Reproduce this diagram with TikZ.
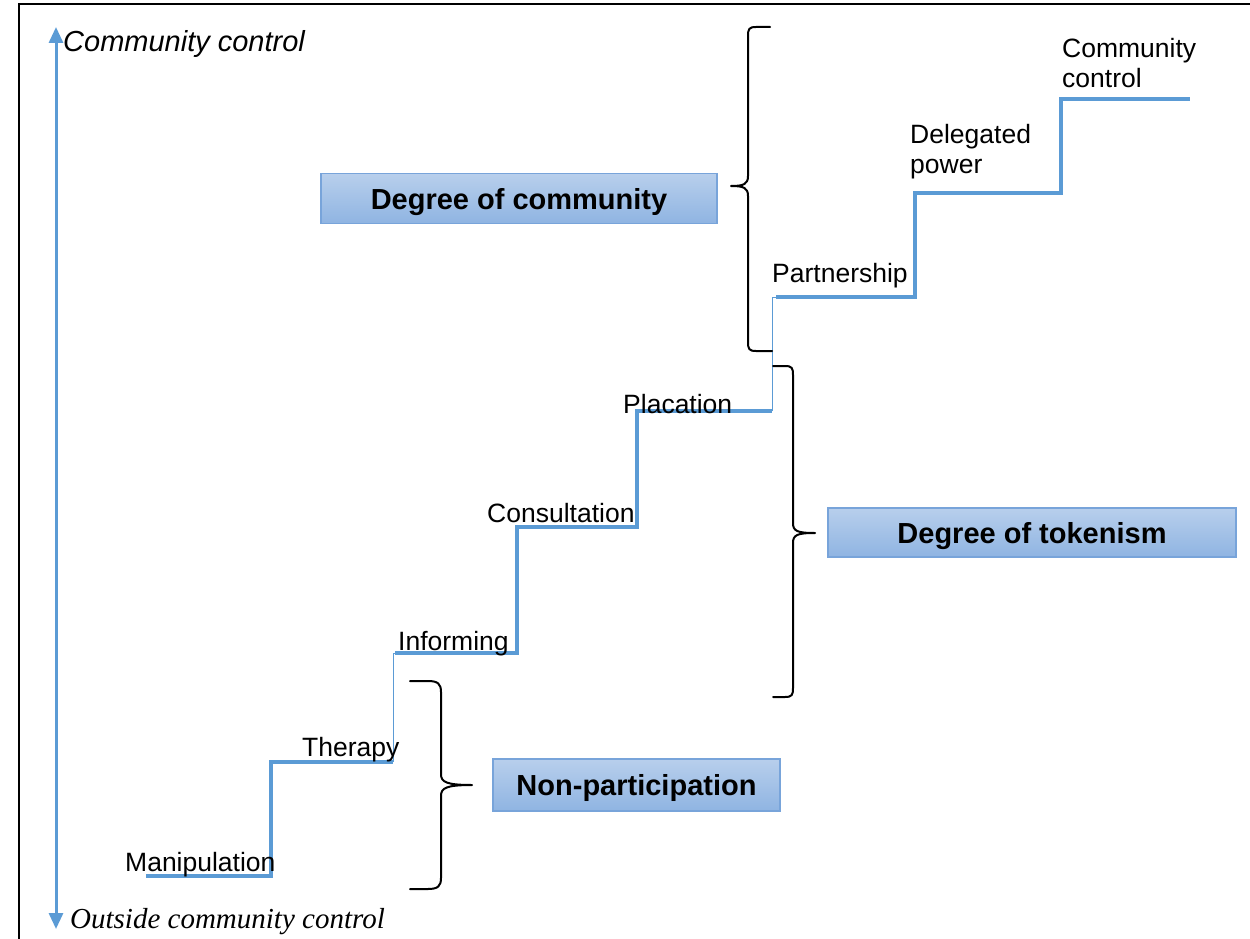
\documentclass[tikz,border=0pt]{standalone}
\usepackage{fontspec}
\setmainfont{Liberation Sans}
\newfontfamily\serifit{Liberation Serif}
\usetikzlibrary{arrows.meta,calc}

\definecolor{stairblue}{RGB}{91,155,213}
\definecolor{boxtop}{RGB}{184,207,236}
\definecolor{boxbottom}{RGB}{143,180,226}
\definecolor{boxedge}{RGB}{120,164,218}

\tikzset{
  stair/.style={stairblue, line width=4.5pt, line join=miter},
  thinstair/.style={stairblue, line width=1pt},
  steplabel/.style={anchor=base west, inner sep=0pt, font=\fontsize{26.5}{30}\selectfont},
  groupbox/.style={draw=boxedge, line width=1.2pt, top color=boxtop, bottom color=boxbottom,
    minimum height=50pt, inner sep=0pt, text height=21pt, text depth=0pt,
    font=\bfseries\fontsize{29}{32}\selectfont},
  bracket/.style={line width=2pt, black, line cap=round, line join=round},
  axhead/.tip={Triangle[length=16pt,width=14pt]},
}

\begin{document}
\begin{tikzpicture}[x=1pt,y=-1pt]
\useasboundingbox (0,0) rectangle (1250,939);

% frame lines
\draw[line width=2pt] (19,939) -- (19,4) -- (1250,4);

% control axis
\coordinate (axtop) at (56,27);
\coordinate (axbot) at (56,929);
\draw[stairblue, line width=3pt, axhead-axhead] (axbot) -- (axtop);
\node[anchor=base west, inner sep=0pt, font=\itshape\fontsize{29}{32}\selectfont] (topax) at (63,52) {Community control};
\node[anchor=base west, inner sep=0pt, font=\serifit\itshape\fontsize{29}{32}\selectfont] (botax) at (70,928) {Outside community control};

% staircase corners
\coordinate (s0) at (146,876);
\coordinate (s1) at (271,876);
\coordinate (s2) at (271,762);
\coordinate (s3) at (393,762);
\coordinate (s4) at (393,653);
\coordinate (s5) at (517,653);
\coordinate (s6) at (517,527);
\coordinate (s7) at (637,527);
\coordinate (s8) at (637,411);
\coordinate (s9) at (772,411);
\coordinate (s10) at (772,297);
\coordinate (s11) at (915,297);
\coordinate (s12) at (915,193);
\coordinate (s13) at (1061,193);
\coordinate (s14) at (1061,99);
\coordinate (s15) at (1190,99);

\draw[stair] (s0) -- (s1) -- (s2) -- (s3);
\draw[thinstair] (s3) -- (s4) -- ++(3,0);
\draw[stair] ($(s4)+(2,0)$) -- (s5) -- (s6) -- (s7) -- (s8) -- (s9);
\draw[thinstair] (s9) -- (s10) -- ++(4,0);
\draw[stair] ($(s10)+(4,0)$) -- (s11) -- (s12) -- (s13) -- (s14) -- (s15);

% rung labels
\node[steplabel] (manip) at (125,871) {Manipulation};
\node[steplabel] (ther) at (302,756) {Therapy};
\node[steplabel] (inf) at (398,650) {Informing};
\node[steplabel] (cons) at (487,522) {Consultation};
\node[steplabel] (plac) at (623,413) {Placation};
\node[steplabel] (part) at (772,282) {Partnership};
\node[steplabel] (deleg) at (910,143) {Delegated};
\node[steplabel] (delpow) at (910,173) {power};
\node[steplabel] (cc1) at (1062,58) {Community};
\node[steplabel] (cc2) at (1062,88) {control};

% group boxes
\node[groupbox, minimum width=396pt] (community) at (519,198.5) {Degree of community};
\node[groupbox, minimum width=408pt, minimum height=49pt] (tokenism) at (1032,532.5) {Degree of tokenism};
\node[groupbox, minimum width=287pt, minimum height=52pt] (nonpart) at (636.5,785) {Non-participation};

% brace opening towards the upper rungs
\coordinate (b1top) at (770,27);
\coordinate (b1tip) at (731,186);
\coordinate (b1bot) at (772,351);
\draw[bracket] (b1top) -- (756,27) .. controls (749,27) and (748,29) .. (748,36)
  -- (748,176) .. controls (748,184) and (744,186) .. (b1tip)
  .. controls (744,186) and (748,188) .. (748,196)
  -- (748,342) .. controls (748,349) and (749,351) .. (756,351) -- (b1bot);

% brace closing the middle rungs
\coordinate (b2top) at (773,366);
\coordinate (b2tip) at (815,533);
\coordinate (b2bot) at (773,697);
\draw[bracket] (b2top) -- (785,366) .. controls (792,366) and (793,368) .. (793,375)
  -- (793,523) .. controls (793,531) and (797,533) .. (b2tip)
  .. controls (797,533) and (793,535) .. (793,543)
  -- (793,688) .. controls (793,695) and (792,697) .. (785,697) -- (b2bot);

% brace closing the lowest rungs
\coordinate (b3top) at (410,681);
\coordinate (b3tip) at (472,785);
\coordinate (b3bot) at (410,889);
\draw[bracket] (b3top) -- (428,681) .. controls (438,681) and (441,684) .. (441,692)
  -- (441,774) .. controls (441,782) and (446,785) .. (b3tip)
  .. controls (446,785) and (441,788) .. (441,796)
  -- (441,878) .. controls (441,886) and (438,889) .. (428,889) -- (b3bot);
\end{tikzpicture}
\end{document}
